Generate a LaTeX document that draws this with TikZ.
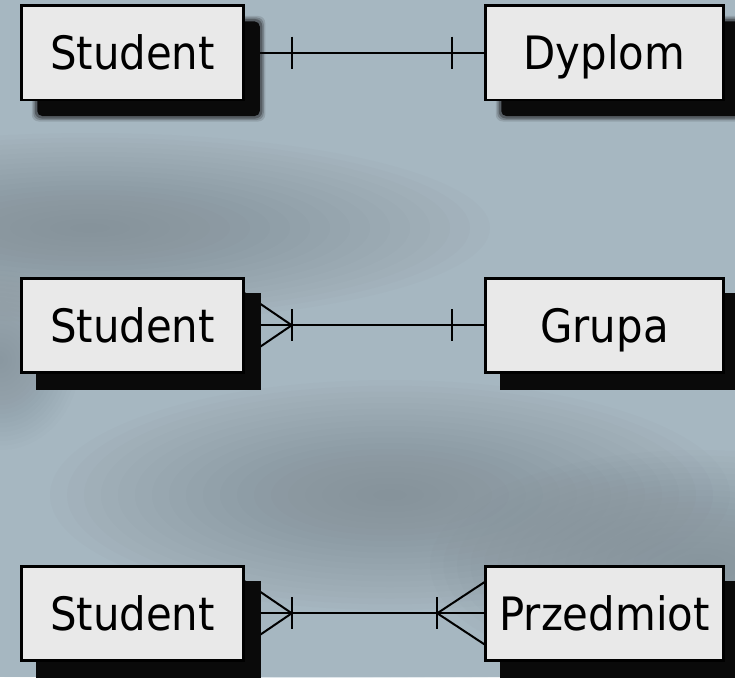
\documentclass[tikz,border=0pt]{standalone}
\usepackage{fontspec}
\setmainfont{DejaVu Sans}[FakeStretch=0.91]
\usetikzlibrary{calc}
\pgfdeclarelayer{bg}
\pgfdeclarelayer{conn}
\pgfdeclarelayer{shad}
\pgfsetlayers{bg,conn,shad,main}
\definecolor{basec}{HTML}{A6B7C1}
\definecolor{lightc}{HTML}{B9C9D2}
\definecolor{darkc}{HTML}{78838A}
\definecolor{boxc}{HTML}{E9E9E9}
\definecolor{shadc}{HTML}{0A0A0A}
% soft blob: colour, opacity per layer, cx, cy, rx, ry
\newcommand\bgblob[6]{%
  \foreach \k in {1,...,20}{%
    \fill[#1, fill opacity=#2] (#3,#4) ellipse [x radius={#5*\k/20}, y radius={#6*\k/20}];
  }%
}
\begin{document}
\begin{tikzpicture}[x=1pt,y=-1pt,
  ent/.style={draw=black, line width=2.5pt, fill=boxc, minimum width=222pt, minimum height=94pt, inner sep=0pt},
  wide/.style={minimum width=238pt},
  lbl/.style={anchor=base, font=\fontsize{46}{50}\selectfont, text=black, inner sep=0pt},
  rel/.style={line width=2pt, draw=black},
  hardshadow/.style={fill=shadc}
]
\useasboundingbox (0,0) rectangle (735,677);

% entities
\node[ent] (s1) at (132.5,52.75) {};
\node[ent,wide] (d1) at (604.5,52.75) {};
\node[ent] (s2) at (132.5,325.25) {};
\node[ent,wide] (g2) at (604.5,325.25) {};
\node[ent] (s3) at (132.5,613.25) {};
\node[ent,wide] (p3) at (604.5,613.25) {};

\node[lbl] (ts1) at ($(s1.center)+(0,17)$) {Student};
\node[lbl] (td1) at ($(d1.center)+(0,17)$) {Dyplom};
\node[lbl] (ts2) at ($(s2.center)+(0,17)$) {Student};
\node[lbl] (tg2) at ($(g2.center)+(0,17)$) {Grupa};
\node[lbl] (ts3) at ($(s3.center)+(0,17)$) {Student};
\node[lbl] (tp3) at ($(p3.center)+(0,17)$) {Przedmiot};

% background
\begin{pgfonlayer}{bg}
  \fill[basec] (0,0) rectangle (735,677);
  \bgblob{lightc}{0.05}{330}{130}{360}{150}
  \bgblob{lightc}{0.05}{90}{480}{260}{150}
  \bgblob{lightc}{0.04}{300}{660}{300}{100}
  \bgblob{darkc}{0.042}{90}{228}{400}{95}
  \bgblob{darkc}{0.042}{390}{495}{340}{115}
  \bgblob{darkc}{0.04}{700}{565}{270}{115}
  \bgblob{darkc}{0.03}{0}{360}{80}{90}
\end{pgfonlayer}

% connectors
\begin{pgfonlayer}{conn}
  % one-to-one
  \draw[rel] (s1.east) -- (d1.west);
  \draw[rel] ($(s1.east)+(47,-16)$) -- ($(s1.east)+(47,16)$);
  \draw[rel] ($(d1.west)+(-32,-16)$) -- ($(d1.west)+(-32,16)$);
  % many-to-one
  \draw[rel] (s2.east) -- (g2.west);
  \draw[rel] ($(s2.east)+(0,-32)$) -- ($(s2.east)+(47,0)$) -- ($(s2.east)+(0,32)$);
  \draw[rel] ($(s2.east)+(47,-16)$) -- ($(s2.east)+(47,16)$);
  \draw[rel] ($(g2.west)+(-32,-16)$) -- ($(g2.west)+(-32,16)$);
  % many-to-many
  \draw[rel] (s3.east) -- (p3.west);
  \draw[rel] ($(s3.east)+(0,-32)$) -- ($(s3.east)+(47,0)$) -- ($(s3.east)+(0,32)$);
  \draw[rel] ($(s3.east)+(47,-16)$) -- ($(s3.east)+(47,16)$);
  \draw[rel] ($(p3.west)+(0,-31)$) -- ($(p3.west)+(-47,0)$) -- ($(p3.west)+(0,31)$);
  \draw[rel] ($(p3.west)+(-47,-16)$) -- ($(p3.west)+(-47,16)$);
\end{pgfonlayer}

% shadows
\begin{pgfonlayer}{shad}
  \foreach \n in {s1,d1}{
    \foreach \e/\o in {4.5/0.12,3/0.2,1.5/0.3}{
      \fill[shadc, fill opacity=\o, rounded corners=7pt]
        ($(\n.south west)+(16-\e,16+\e)$) rectangle ($(\n.north east)+(16+\e,16-\e)$);
    }
    \fill[shadc, rounded corners=5pt]
      ($(\n.south west)+(17,15)$) rectangle ($(\n.north east)+(15,17)$);
  }
  \foreach \n in {s2,g2,s3,p3}{
    \fill[hardshadow] ($(\n.south west)+(16,16)$) rectangle ($(\n.north east)+(16,16)$);
  }
\end{pgfonlayer}
\end{tikzpicture}
\end{document}
